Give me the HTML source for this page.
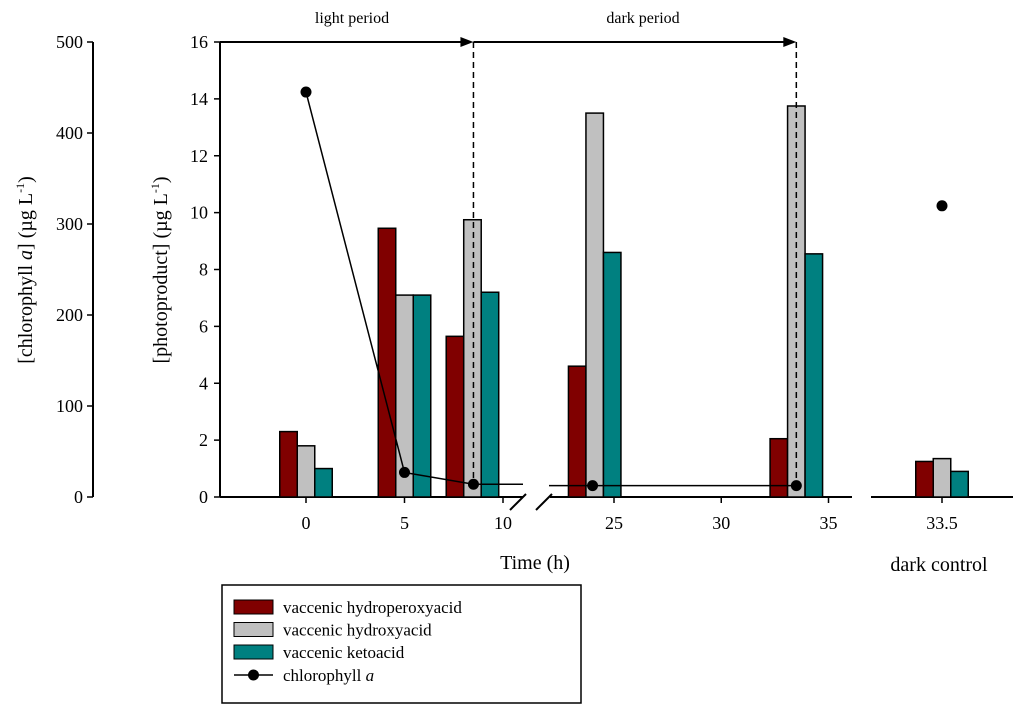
<!DOCTYPE html>
<html><head><meta charset="utf-8"><style>
body{margin:0;background:#fff;}
svg{display:block;font-family:"Liberation Serif",serif;}
</style></head><body>
<svg id="c" width="1024" height="710" viewBox="0 0 1024 710"></svg>
<script>
// data
const groupTimes = [0, 5, 8.45, 24.1, 33.5];
const hydroperoxy = [2.3, 9.45, 5.65, 4.6, 2.05];
const hydroxy = [1.8, 7.1, 9.75, 13.5, 13.75];
const keto = [1.0, 7.1, 7.2, 8.6, 8.55];
const chlTimes = [0, 5, 8.5, 24, 33.5];
const chlValues = [445, 27, 14, 12.5, 12.5];
const controlHydroperoxy = [1.25];
const controlHydroxy = [1.35];
const controlKeto = [0.9];
const controlChl = [320];
const yTicks = [0,2,4,6,8,10,12,14,16];
const chlTicks = [0,100,200,300,400,500];
const xTicks1 = [0,5,10];
const xTicks2 = [25,30,35];
const controlTickLabels = ["33.5"];

const svg = document.getElementById('c');
const NS = 'http://www.w3.org/2000/svg';
function mk(tag, attrs, parent){const e=document.createElementNS(NS,tag);for(const k in attrs)e.setAttribute(k,attrs[k]);(parent||svg).appendChild(e);return e;}
const Y0=497, Y1=42;
const yP = v => Y0 - v*(Y0-Y1)/16;
const yC = v => Y0 - v*(Y0-Y1)/500;
const x1 = t => 306 + 19.7*t;
const x2 = t => 614 + 21.45*(t-25);
const xT = t => t < 15 ? x1(t) : x2(t);
const xCtrl = 942;
const colors = ['#800000','#c0c0c0','#008080'];
const BW = 17.5;
const TF = 18;

let e;
e=mk('line',{x1:93,y1:Y1,x2:93,y2:Y0,stroke:'#000','stroke-width':2});


chlTicks.forEach(v=>{
  mk('line',{x1:87,x2:93,y1:yC(v),y2:yC(v),stroke:'#000','stroke-width':1.5});
  e=mk('text',{x:83,y:yC(v)+6,'text-anchor':'end','font-size':TF});e.textContent=v;
  
  
});
e=mk('line',{x1:220,y1:Y1,x2:220,y2:Y0,stroke:'#000','stroke-width':2});


yTicks.forEach(v=>{
  mk('line',{x1:214,x2:220,y1:yP(v),y2:yP(v),stroke:'#000','stroke-width':1.5});
  e=mk('text',{x:208,y:yP(v)+6,'text-anchor':'end','font-size':TF});e.textContent=v;
  
  
});
e=mk('text',{transform:'translate(32,270) rotate(-90)','text-anchor':'middle','font-size':20});
e.innerHTML='[chlorophyll <tspan font-style="italic">a</tspan>] (µg L<tspan dy="-8" font-size="12">-1</tspan><tspan dy="8">)</tspan>';


e=mk('text',{transform:'translate(167,270) rotate(-90)','text-anchor':'middle','font-size':20});
e.innerHTML='[photoproduct] (µg L<tspan dy="-8" font-size="12">-1</tspan><tspan dy="8">)</tspan>';



mk('line',{x1:220,x2:523,y1:Y0,y2:Y0,stroke:'#000','stroke-width':2});
mk('line',{x1:550,x2:852,y1:Y0,y2:Y0,stroke:'#000','stroke-width':2});
mk('line',{x1:871,x2:1013,y1:Y0,y2:Y0,stroke:'#000','stroke-width':2});
mk('line',{x1:510,y1:510,x2:526,y2:494,stroke:'#000','stroke-width':2});
mk('line',{x1:536,y1:510,x2:552,y2:494,stroke:'#000','stroke-width':2});
xTicks1.forEach(t=>{mk('line',{x1:x1(t),x2:x1(t),y1:Y0,y2:Y0+6,stroke:'#000','stroke-width':1.5});
  e=mk('text',{x:x1(t),y:529,'text-anchor':'middle','font-size':TF});e.textContent=t;
  
  });
xTicks2.forEach(t=>{mk('line',{x1:x2(t),x2:x2(t),y1:Y0,y2:Y0+6,stroke:'#000','stroke-width':1.5});
  e=mk('text',{x:x2(t),y:529,'text-anchor':'middle','font-size':TF});e.textContent=t;
  
  });
controlTickLabels.forEach(l=>{mk('line',{x1:xCtrl,x2:xCtrl,y1:Y0,y2:Y0+6,stroke:'#000','stroke-width':1.5});
  e=mk('text',{x:xCtrl,y:529,'text-anchor':'middle','font-size':TF});e.textContent=l;
  
  });
e=mk('text',{x:535,y:569,'text-anchor':'middle','font-size':20});e.textContent='Time (h)';


e=mk('text',{x:939,y:571,'text-anchor':'middle','font-size':20});e.textContent='dark control';



const series=[hydroperoxy,hydroxy,keto];
groupTimes.forEach((t,i)=>{
  const cx=xT(t);
  series.forEach((s,j)=>{
    const b=mk('rect',{x:cx+(j-1.5)*BW,y:yP(s[i]),width:BW,height:Y0-yP(s[i]),fill:colors[j],stroke:'#000','stroke-width':1.5});
    
    
  });
});
[controlHydroperoxy,controlHydroxy,controlKeto].forEach((s,j)=>{
  const b=mk('rect',{x:xCtrl+(j-1.5)*BW,y:yP(s[0]),width:BW,height:Y0-yP(s[0]),fill:colors[j],stroke:'#000','stroke-width':1.5});
  
  
});

const xLight=x1(8.5), xDark=x2(33.5);
mk('line',{x1:220,x2:xLight-10,y1:Y1,y2:Y1,stroke:'#000','stroke-width':2});
mk('polygon',{points:`${xLight},${Y1} ${xLight-13},${Y1-5} ${xLight-13},${Y1+5}`,fill:'#000'});
mk('line',{x1:xLight,x2:xDark-10,y1:Y1,y2:Y1,stroke:'#000','stroke-width':2});
mk('polygon',{points:`${xDark},${Y1} ${xDark-13},${Y1-5} ${xDark-13},${Y1+5}`,fill:'#000'});
mk('line',{x1:xLight,x2:xLight,y1:Y1,y2:Y0-10,stroke:'#000','stroke-width':1.5,'stroke-dasharray':'6,4'});
mk('line',{x1:xDark,x2:xDark,y1:Y1,y2:Y0-10,stroke:'#000','stroke-width':1.5,'stroke-dasharray':'6,4'});
e=mk('text',{x:352,y:23,'text-anchor':'middle','font-size':16});e.textContent='light period';


e=mk('text',{x:643,y:23,'text-anchor':'middle','font-size':16});e.textContent='dark period';



const seg1=[],seg2=[];
chlTimes.forEach((t,i)=>{(t<15?seg1:seg2).push([xT(t),yC(chlValues[i])]);});
if(seg1.length){const l=seg1[seg1.length-1];seg1.push([523,l[1]]);}
if(seg2.length){seg2.unshift([549,seg2[0][1]]);}
[seg1,seg2].forEach(s=>{
  const p=mk('polyline',{points:s.map(q=>q.join(',')).join(' '),fill:'none',stroke:'#000','stroke-width':1.5});
  
  
});
chlTimes.forEach((t,i)=>{
  const c=mk('circle',{cx:xT(t),cy:yC(chlValues[i]),r:5.5,fill:'#000'});
  
  
});
controlChl.forEach(v=>{
  const c=mk('circle',{cx:xCtrl,cy:yC(v),r:5.5,fill:'#000'});
  
  
});

const lg=mk('g',{});


mk('rect',{x:222,y:585,width:359,height:118,fill:'#fff',stroke:'#000','stroke-width':1.5},lg);
const labels=['vaccenic hydroperoxyacid','vaccenic hydroxyacid','vaccenic ketoacid'];
labels.forEach((l,j)=>{
  const yy=607+j*22.5;
  const r=mk('rect',{x:234,y:yy-7,width:39,height:14,fill:colors[j],stroke:'#000','stroke-width':1},lg);
  
  
  const t=mk('text',{x:283,y:yy+6,'font-size':17},lg);t.textContent=l;
  
  
});
mk('line',{x1:234,x2:273,y1:675,y2:675,stroke:'#000','stroke-width':1.5},lg);
mk('circle',{cx:253.5,cy:675,r:5.5,fill:'#000'},lg);
e=mk('text',{x:283,y:681,'font-size':17},lg);
e.innerHTML='chlorophyll <tspan font-style="italic">a</tspan>';


</script>
</body></html>
